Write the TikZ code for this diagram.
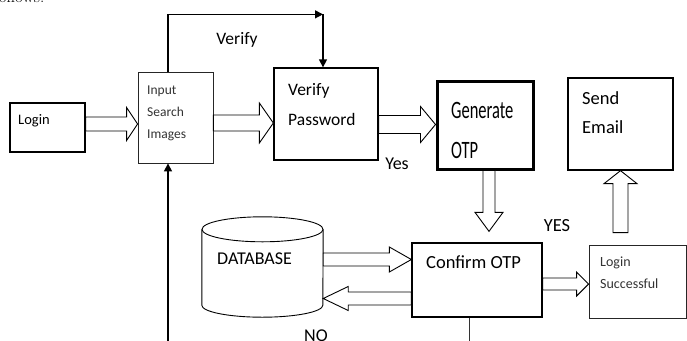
\documentclass[tikz,border=0pt]{standalone}
\usepackage{fontspec}
\setmainfont{Carlito}
\newfontfamily\condfont[FakeStretch=0.66]{Carlito}
\newfontfamily\paperfont{Latin Modern Roman}
\usetikzlibrary{arrows.meta, positioning, calc}

% hollow block arrow: from, to, half shaft, half head, head length
\newcommand{\blockarrow}[5]{%
  \draw[hollow] let \p1=(#1), \p2=(#2),
    \n1={veclen(\x2-\x1,\y2-\y1)}, \n2={(\x2-\x1)/\n1}, \n3={(\y2-\y1)/\n1} in
    ({\x1-(\n3)*#3pt},{\y1+(\n2)*#3pt})
    -- ({\x2-(\n2)*#5pt-(\n3)*#3pt},{\y2-(\n3)*#5pt+(\n2)*#3pt})
    -- ({\x2-(\n2)*#5pt-(\n3)*#4pt},{\y2-(\n3)*#5pt+(\n2)*#4pt})
    -- (\p2)
    -- ({\x2-(\n2)*#5pt+(\n3)*#4pt},{\y2-(\n3)*#5pt-(\n2)*#4pt})
    -- ({\x2-(\n2)*#5pt+(\n3)*#3pt},{\y2-(\n3)*#5pt-(\n2)*#3pt})
    -- ({\x1+(\n3)*#3pt},{\y1-(\n2)*#3pt}) -- cycle;}

\begin{document}
\begin{tikzpicture}[
    x=1pt, y=-1pt,
    box/.style={
        draw,
        line width=1.3pt,
        inner sep=0pt,
        minimum width=#1
    },
    thinbox/.style={box=#1, line width=0.8pt, draw=black!85},
    txt/.style={anchor=north west, inner sep=0pt, align=left},
    hollow/.style={draw, line width=0.9pt, fill=white, line join=miter},
    link/.style={line width=1.3pt, -{Triangle[length=8pt, width=8pt]}}
]
\useasboundingbox (0,0) rectangle (687,340);

\node[anchor=base west, inner sep=0pt, font=\paperfont\fontsize{17}{18}\selectfont] (prev) at (-6,2.5) {follows.};

% Top row
\node[box=75pt, minimum height=49pt] (login) at (47.5,127.5) {};
\node[txt, font=\fontsize{14.5}{18}\selectfont] (logintxt) at (18,114) {Login};

\node[thinbox=75pt, minimum height=91pt] (input) at (175.5,117.5) {};
\node[txt, font=\fontsize{13.5}{22}\selectfont, text=black!80] (inputtxt) at (147,86) {Input\\Search\\Images};

\node[box=104pt, minimum height=92pt] (verify) at (326,114) {};
\node[txt, font=\fontsize{17.5}{30}\selectfont] (verifytxt) at (288,83) {Verify\\Password};

\node[box=96pt, minimum height=88pt, line width=3pt] (generate) at (485,125) {};
\node[txt, font=\condfont\fontsize{25}{40}\selectfont] (generatetxt) at (451,102) {Generate\\OTP};

\node[box=105pt, minimum height=92pt] (sendmail) at (620.5,124) {};
\node[txt, font=\fontsize{18.5}{29}\selectfont] (sendmailtxt) at (582,91) {Send\\Email};

% Bottom row
\node[inner sep=0pt, minimum width=121pt, minimum height=100pt] (db) at (262.5,267) {};
\draw[line width=0.9pt] ($(db.north)+(0,12.5)$) ellipse [x radius=60.5pt, y radius=12.5pt];
\draw[line width=0.9pt] ($(db.north west)+(0,12.5)$) -- ($(db.south west)+(0,-12)$)
    arc[start angle=180, end angle=360, x radius=60.5pt, y radius=12pt]
    -- ($(db.north east)+(0,12.5)$);
\node[txt, font=\fontsize{18}{22}\selectfont] (dbtxt) at (217,253) {DATABASE};

\node[box=130pt, minimum height=74pt] (confirm) at (477,280) {};
\node[txt, font=\fontsize{18.5}{22}\selectfont] (confirmtxt) at (426,256) {Confirm OTP};

\node[thinbox=97pt, minimum height=73pt] (success) at (637.5,281.5) {};
\node[txt, font=\fontsize{14}{22}\selectfont, text=black!80] (successtxt) at (600,257) {Login\\Successful};

% Labels
\node[font=\fontsize{17.5}{20}\selectfont] (verifylbl) at (237,40) {Verify};
\node[font=\fontsize{18}{20}\selectfont] (yeslbl) at (397,164) {Yes};
\node[font=\fontsize{18.5}{20}\selectfont] (yeslbl2) at (557,226) {YES};
\node[anchor=north, inner sep=0pt, font=\fontsize{18}{20}\selectfont] (nolbl) at (316,330) {NO};

% Block arrows
\blockarrow{$(login.east)+(0,-3.5)$}{$(input.west)+(0,6.5)$}{7}{16.5}{11}
\blockarrow{$(input.east)+(0,5.5)$}{$(verify.west)+(0,9)$}{8}{20}{14}
\blockarrow{$(verify.east)+(0,10.5)$}{$(generate.west)+(0,-0.5)$}{9}{18}{15}
\blockarrow{$(generate.south)+(4,0)$}{$(confirm.north)+(12,-11)$}{6}{14}{19}
\blockarrow{$(db.east)+(0,-7.5)$}{$(confirm.west)+(0,-20.5)$}{6.5}{12.5}{22}
\blockarrow{$(confirm.west)+(0,18.5)$}{$(db.east)+(0,31.5)$}{6.5}{12}{25}
\blockarrow{$(confirm.east)+(0,4)$}{$(success.west)+(0,2.5)$}{6}{12}{12}
\blockarrow{$(success.north)+(-17,-12)$}{sendmail.south}{7.5}{16.5}{13}

% Line connectors
\coordinate (bend) at ($(verify.north)+(-3,-53)$);
\coordinate (feed) at (168,341);
\coordinate (out) at (469,341);
\draw[link] (input.north -| feed) |- (bend);
\draw[link] (bend) -- (bend |- verify.north);
\draw[link] (feed) -- (feed |- input.south);
\draw[line width=1pt, draw=black!80] (confirm.south -| out) -- (out);

\end{tikzpicture}
\end{document}
